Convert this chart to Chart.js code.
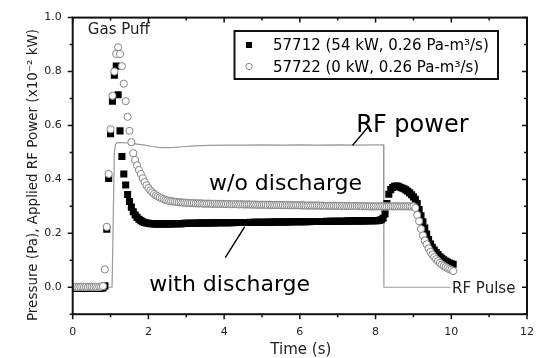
<!DOCTYPE html>
<html>
<head>
<meta charset="utf-8">
<script src="https://cdn.jsdelivr.net/npm/chart.js@4.4.1/dist/chart.umd.min.js"></script>
<style>
  html, body { margin: 0; padding: 0; background: #fff; }
  canvas { display: block; }
</style>
</head>
<body>
<canvas id="pressure" width="545" height="358"></canvas>
<script>
// sample times of the pressure gauge (s)
const times = [
  0.00,0.05,0.10,0.15,0.20,0.25,0.30,0.35,0.40,0.45,
  0.50,0.55,0.60,0.65,0.70,0.75,0.80,0.85,0.90,0.95,
  1.00,1.05,1.10,1.15,1.20,1.25,1.30,1.35,1.40,1.45,
  1.50,1.55,1.60,1.65,1.70,1.75,1.80,1.85,1.90,1.95,
  2.00,2.05,2.10,2.15,2.20,2.25,2.30,2.35,2.40,2.45,
  2.50,2.55,2.60,2.65,2.70,2.75,2.80,2.85,2.90,2.95,
  3.00,3.05,3.10,3.15,3.20,3.25,3.30,3.35,3.40,3.45,
  3.50,3.55,3.60,3.65,3.70,3.75,3.80,3.85,3.90,3.95,
  4.00,4.05,4.10,4.15,4.20,4.25,4.30,4.35,4.40,4.45,
  4.50,4.55,4.60,4.65,4.70,4.75,4.80,4.85,4.90,4.95,
  5.00,5.05,5.10,5.15,5.20,5.25,5.30,5.35,5.40,5.45,
  5.50,5.55,5.60,5.65,5.70,5.75,5.80,5.85,5.90,5.95,
  6.00,6.05,6.10,6.15,6.20,6.25,6.30,6.35,6.40,6.45,
  6.50,6.55,6.60,6.65,6.70,6.75,6.80,6.85,6.90,6.95,
  7.00,7.05,7.10,7.15,7.20,7.25,7.30,7.35,7.40,7.45,
  7.50,7.55,7.60,7.65,7.70,7.75,7.80,7.85,7.90,7.95,
  8.00,8.05,8.10,8.15,8.20,8.25,8.30,8.35,8.40,8.45,
  8.50,8.55,8.60,8.65,8.70,8.75,8.80,8.85,8.90,8.95,
  9.00,9.05,9.10,9.15,9.20,9.25,9.30,9.35,9.40,9.45,
  9.50,9.55,9.60,9.65,9.70,9.75,9.80,9.85,9.90,9.95,
  10.00,10.05
];

// shot 57712, with discharge (Pa)
const shot57712 = [
  -0.004,-0.005,-0.004,-0.005,-0.004,-0.004,-0.005,-0.004,-0.005,-0.004,
  -0.004,-0.005,-0.004,-0.004,-0.005,-0.004,-0.003,0.005,0.215,0.403,
  0.569,0.690,0.786,0.820,0.714,0.580,0.485,0.420,0.379,0.344,
  0.318,0.297,0.280,0.268,0.259,0.252,0.247,0.243,0.240,0.238,
  0.237,0.236,0.236,0.235,0.235,0.235,0.235,0.235,0.235,0.235,
  0.235,0.235,0.236,0.235,0.236,0.236,0.236,0.236,0.236,0.237,
  0.237,0.237,0.237,0.237,0.237,0.238,0.237,0.238,0.238,0.238,
  0.238,0.238,0.238,0.238,0.239,0.238,0.239,0.239,0.239,0.239,
  0.239,0.239,0.239,0.239,0.240,0.239,0.240,0.240,0.240,0.240,
  0.240,0.240,0.240,0.240,0.241,0.240,0.241,0.241,0.241,0.241,
  0.241,0.241,0.241,0.241,0.242,0.241,0.242,0.242,0.242,0.242,
  0.242,0.242,0.242,0.242,0.243,0.242,0.243,0.243,0.243,0.243,
  0.243,0.243,0.243,0.243,0.244,0.243,0.244,0.244,0.244,0.244,
  0.244,0.244,0.244,0.244,0.245,0.244,0.245,0.245,0.245,0.245,
  0.245,0.245,0.245,0.245,0.245,0.246,0.245,0.246,0.246,0.246,
  0.246,0.246,0.246,0.246,0.246,0.247,0.246,0.247,0.247,0.247,
  0.247,0.247,0.248,0.250,0.256,0.272,0.310,0.345,0.362,0.370,
  0.374,0.375,0.374,0.371,0.368,0.365,0.361,0.356,0.350,0.343,
  0.335,0.326,0.310,0.288,0.265,0.243,0.220,0.197,0.177,0.160,
  0.148,0.138,0.129,0.121,0.113,0.107,0.102,0.097,0.093,0.090,
  0.087,0.085
];

// shot 57722, gas only (Pa)
const shot57722 = [
  0.002,0.001,0.002,0.001,0.002,0.002,0.001,0.002,0.001,0.002,
  0.002,0.001,0.002,0.001,0.002,0.002,0.004,0.066,0.224,0.420,
  0.586,0.710,0.800,0.865,0.890,0.865,0.820,0.755,0.690,0.632,
  0.580,0.538,0.497,0.472,0.452,0.435,0.420,0.404,0.390,0.378,
  0.368,0.359,0.352,0.346,0.341,0.337,0.333,0.330,0.327,0.324,
  0.322,0.320,0.319,0.318,0.317,0.316,0.315,0.315,0.314,0.314,
  0.313,0.313,0.312,0.312,0.312,0.311,0.311,0.311,0.311,0.310,
  0.310,0.310,0.310,0.310,0.309,0.310,0.309,0.309,0.309,0.309,
  0.309,0.308,0.309,0.308,0.308,0.308,0.308,0.308,0.307,0.308,
  0.307,0.307,0.307,0.307,0.307,0.306,0.307,0.306,0.306,0.306,
  0.306,0.306,0.306,0.305,0.306,0.305,0.305,0.305,0.305,0.305,
  0.305,0.305,0.304,0.305,0.304,0.304,0.304,0.304,0.304,0.304,
  0.304,0.303,0.304,0.303,0.303,0.303,0.303,0.303,0.303,0.303,
  0.303,0.302,0.303,0.302,0.302,0.302,0.302,0.302,0.302,0.302,
  0.302,0.302,0.301,0.302,0.301,0.301,0.301,0.301,0.301,0.301,
  0.301,0.301,0.301,0.300,0.301,0.300,0.300,0.300,0.300,0.300,
  0.300,0.300,0.300,0.300,0.300,0.300,0.300,0.300,0.300,0.300,
  0.300,0.300,0.300,0.300,0.300,0.300,0.300,0.300,0.300,0.299,
  0.300,0.294,0.268,0.245,0.216,0.192,0.173,0.159,0.144,0.131,
  0.121,0.112,0.104,0.097,0.090,0.084,0.079,0.075,0.071,0.067,
  0.064,0.060
];

// applied RF power trace (x10^-2 kW)
const rfTimes = [0, 1.04, 1.07, 1.10, 1.13, 1.18, 1.3, 1.5, 1.7, 1.9, 2.1, 2.3, 2.5, 2.7, 2.9,
                 3.2, 3.6, 4.0, 4.5, 5.0, 5.5, 6.0, 6.5, 7.0, 7.5, 8.0, 8.21, 8.22, 9.98];
const rfPower = [0, 0, 0.25, 0.50, 0.530, 0.536, 0.536, 0.534, 0.531, 0.527, 0.522, 0.518, 0.518, 0.519, 0.521,
                 0.524, 0.526, 0.527, 0.527, 0.528, 0.527, 0.528, 0.527, 0.528, 0.527, 0.528, 0.528, 0, 0];

const seriesLabels = ['57712 (54 kW, 0.26 Pa-m\u00B3/s)', '57722 (0 kW, 0.26 Pa-m\u00B3/s)'];
const xTicks = [0, 2, 4, 6, 8, 10, 12];
const yTicks = [0, 0.2, 0.4, 0.6, 0.8, 1.0];

const FONT = "'DejaVu Sans', sans-serif";

// text notes placed in data units (left edge, baseline)
const notes = [
  { text: 'Gas Puff', t: 0.40, v: 0.938, size: 15, color: '#222' },
  { text: 'RF power', t: 7.49, v: 0.577, size: 24, color: '#000' },
  { text: 'w/o discharge', t: 3.60, v: 0.359, size: 22, color: '#000' },
  { text: 'with discharge', t: 2.02, v: -0.014, size: 22, color: '#000' },
  { text: 'RF Pulse', t: 10.02, v: -0.021, size: 15, color: '#222' }
];
const pointers = [
  [7.39, 0.526, 7.83, 0.599],
  [4.54, 0.224, 4.03, 0.110]
];

const toPoints = (xs, ys) => xs.map((x, i) => ({ x: x, y: ys[i] }));

// frame with ticks on all four sides, notes, legend and axis titles
const decorations = {
  id: 'decorations',
  afterDraw(chart) {
    const { ctx, chartArea: a, scales: { x, y } } = chart;
    ctx.save();

    ctx.strokeStyle = '#111';
    ctx.lineWidth = 2;
    ctx.strokeRect(a.left, a.top, a.right - a.left, a.bottom - a.top);

    ctx.lineWidth = 1.5;
    ctx.beginPath();
    for (let t = 0; t <= 12; t++) {
      const px = x.getPixelForValue(t);
      const len = t % 2 ? 3 : 5;
      ctx.moveTo(px, a.bottom); ctx.lineTo(px, a.bottom + len);
      ctx.moveTo(px, a.top); ctx.lineTo(px, a.top + len);
    }
    for (let k = -1; k <= 10; k++) {
      const py = y.getPixelForValue(k / 10);
      const len = k % 2 ? 3 : 5;
      ctx.moveTo(a.left, py); ctx.lineTo(a.left - len, py);
      ctx.moveTo(a.right, py); ctx.lineTo(a.right - len, py);
    }
    ctx.stroke();

    // pointer lines
    ctx.strokeStyle = '#000';
    ctx.lineWidth = 1.4;
    ctx.beginPath();
    pointers.forEach(p => {
      ctx.moveTo(x.getPixelForValue(p[0]), y.getPixelForValue(p[1]));
      ctx.lineTo(x.getPixelForValue(p[2]), y.getPixelForValue(p[3]));
    });
    ctx.stroke();

    ctx.textBaseline = 'alphabetic';
    ctx.textAlign = 'left';
    notes.forEach(n => {
      ctx.font = n.size + 'px ' + FONT;
      ctx.fillStyle = n.color;
      ctx.fillText(n.text, x.getPixelForValue(n.t), y.getPixelForValue(n.v));
    });

    // legend box
    const lg = { left: 234.5, top: 31, right: 498, bottom: 79 };
    ctx.lineWidth = 2;
    ctx.strokeStyle = '#111';
    ctx.strokeRect(lg.left, lg.top, lg.right - lg.left, lg.bottom - lg.top);
    ctx.font = '15px ' + FONT;
    ctx.fillStyle = '#000';
    chart.data.datasets.slice(0, 2).forEach((ds, i) => {
      const cy = 45 + i * 21.5;
      if (ds.pointStyle === 'rect') {
        ctx.fillStyle = '#000';
        ctx.fillRect(246, cy - 3, 6, 6);
      } else {
        ctx.beginPath();
        ctx.arc(249, cy, 3.2, 0, Math.PI * 2);
        ctx.strokeStyle = '#888';
        ctx.lineWidth = 1;
        ctx.stroke();
      }
      ctx.fillStyle = '#000';
      ctx.fillText(ds.label, 273, cy + 5);
    });

    // axis titles
    ctx.fillStyle = '#222';
    ctx.font = '15px ' + FONT;
    ctx.textAlign = 'center';
    ctx.textBaseline = 'middle';
    ctx.fillText('Time (s)', (a.left + a.right) / 2 + 1, 350);
    ctx.translate(33, 175);
    ctx.rotate(-Math.PI / 2);
    ctx.font = '13.5px ' + FONT;
    ctx.fillText('Pressure (Pa), Applied RF Power (x10\u207B\u00B2 kW)', 0, 0);

    ctx.restore();
  }
};

new Chart(document.getElementById('pressure').getContext('2d'), {
  type: 'scatter',
  data: {
    datasets: [
      {
        label: seriesLabels[0],
        data: toPoints(times, shot57712),
        pointStyle: 'rect',
        pointRadius: 5,
        backgroundColor: '#000',
        borderColor: '#000',
        borderWidth: 0,
        order: 1
      },
      {
        label: seriesLabels[1],
        data: toPoints(times, shot57722),
        pointStyle: 'circle',
        pointRadius: 3.6,
        backgroundColor: '#fff',
        borderColor: '#858585',
        borderWidth: 1,
        order: 0
      },
      {
        label: 'RF',
        data: toPoints(rfTimes, rfPower),
        showLine: true,
        pointRadius: 0,
        borderColor: '#9a9a9a',
        borderWidth: 1.2,
        tension: 0,
        order: 2
      }
    ]
  },
  options: {
    responsive: false,
    animation: false,
    devicePixelRatio: 1,
    layout: { padding: { top: 15, right: 9.3, left: 0, bottom: 0 } },
    plugins: { legend: { display: false }, tooltip: { enabled: false } },
    scales: {
      x: {
        type: 'linear',
        min: 0,
        max: 12,
        afterFit: s => { s.height = 43.8; },
        afterBuildTicks: s => { s.ticks = xTicks.map(v => ({ value: v })); },
        ticks: {
          padding: 11,
          color: '#222',
          font: { family: FONT, size: 11 },
          callback: v => String(v)
        },
        grid: { display: false, drawTicks: false },
        border: { display: false }
      },
      y: {
        min: -0.1,
        max: 1.0,
        afterFit: s => { s.width = 72.7; },
        afterBuildTicks: s => { s.ticks = yTicks.map(v => ({ value: v })); },
        ticks: {
          padding: 11,
          color: '#222',
          font: { family: FONT, size: 11 },
          callback: v => v.toFixed(1)
        },
        grid: { display: false, drawTicks: false },
        border: { display: false }
      }
    }
  },
  plugins: [decorations]
});
</script>
</body>
</html>
